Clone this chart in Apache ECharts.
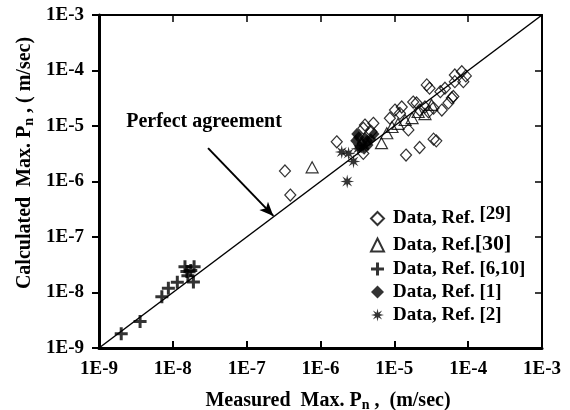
<!DOCTYPE html>
<html>
<head>
<meta charset="utf-8">
<script src="https://cdn.jsdelivr.net/npm/echarts@6/dist/echarts.min.js"></script>
<style>html,body{margin:0;padding:0;background:#fff}#c{width:570px;height:410px}</style>
</head>
<body>
<div id="c"></div>
<script>
// ---- data (measured, calculated) in m/sec ----
const ref29 = [
  [3.3e-7,1.55e-6],[3.9e-7,5.7e-7],[1.66e-6,5.2e-6],[1.44e-5,3.0e-6],[2.2e-5,4.1e-6],
  [3.4e-5,5.8e-6],[3.7e-5,5.4e-6],[1.55e-5,8.5e-6],[3.8e-6,9.1e-6],[5.2e-6,1.12e-5],
  [4.0e-6,1.04e-5],[3.8e-6,3.2e-6],[4.9e-6,7.9e-6],[1.26e-5,2.2e-5],[1.8e-5,2.7e-5],
  [2.75e-5,5.5e-5],[3.0e-5,4.8e-5],[2.6e-5,2.2e-5],[2.9e-5,1.8e-5],[3.4e-5,2.1e-5],
  [4.4e-5,1.94e-5],[4.85e-5,4.8e-5],[4.2e-5,4.15e-5],[6.0e-5,3.2e-5],[5.4e-5,2.6e-5],
  [6.3e-5,3.4e-5],[6.6e-5,8.3e-5],[8.2e-5,9.5e-5],[8.6e-5,6.3e-5],[6.6e-5,6.3e-5],
  [9.3e-5,8.0e-5],[1.19e-5,1.69e-5],[8.7e-6,1.38e-5],[2.2e-5,1.94e-5],[1.02e-5,1.94e-5],
  [2.0e-5,2.6e-5]
];
const ref30 = [
  [7.7e-7,1.8e-6],[6.7e-6,4.9e-6],[7.9e-6,7.4e-6],[9.3e-6,9.6e-6],[1.12e-5,1.09e-5],
  [1.4e-5,1.28e-5],[1.74e-5,1.39e-5],[2.1e-5,1.79e-5],[2.6e-5,1.64e-5],[3.2e-5,2.4e-5]
];
const ref6_10 = [
  [2.0e-9,1.8e-9],[3.6e-9,3.0e-9],[7.1e-9,8.4e-9],[8.7e-9,1.19e-8],[1.15e-8,1.53e-8],
  [1.46e-8,2.9e-8],[1.94e-8,2.9e-8],[1.55e-8,2.4e-8],[1.75e-8,2.5e-8],[1.6e-8,2.0e-8],
  [1.9e-8,1.55e-8]
];
const ref1 = [
  [3.0e-6,5.4e-6],[3.3e-6,6.3e-6],[3.65e-6,4.9e-6],[4.0e-6,6.1e-6],[4.4e-6,4.55e-6],
  [4.8e-6,5.8e-6],[3.4e-6,4.2e-6],[3.9e-6,3.9e-6],[5.3e-6,7.2e-6],[3.1e-6,7.2e-6],
  [4.3e-6,5.4e-6]
];
const ref2 = [
  [1.94e-6,3.4e-6],[2.4e-6,3.2e-6],[2.8e-6,2.3e-6],[2.3e-6,1.0e-6],[3.2e-6,3.9e-6],
  [3.8e-6,4.5e-6]
];
const seriesNames = ['Data, Ref. [29]','Data, Ref. [30]','Data, Ref. [6,10]','Data, Ref. [1]','Data, Ref. [2]'];
const perfectLine = [[1e-9,1e-9],[1e-3,1e-3]];
const arrowFrom = [3.0e-8, 4.0e-6];
const arrowTo = [2.3e-7, 2.4e-7];
const axisMin = 1e-9, axisMax = 1e-3;

const FONT = 'Liberation Serif';
function starPath(n, ro, ri){
  let s = 'path://';
  for (let i = 0; i < 2*n; i++){
    const a = i*Math.PI/n - Math.PI/2;
    const r = (i%2===0) ? ro : ri;
    const x = (10 + r*Math.cos(a)).toFixed(2), y = (10 + r*Math.sin(a)).toFixed(2);
    s += (i===0?'M':'L') + x + ',' + y;
  }
  return s + 'Z';
}
const plusPath = 'path://M5,0H8V5H13V8H8V13H5V8H0V5H5Z';
const label = v => '1E' + Math.round(Math.log10(v));
const baseAxis = {type:'log', logBase:10, min:axisMin, max:axisMax, interval:1,
  splitLine:{show:false}, minorTick:{show:false}, minorSplitLine:{show:false}};
const labelStyle = {fontFamily:FONT, fontWeight:'bold', fontSize:19, color:'#000'};

const chart = echarts.init(document.getElementById('c'), null, {renderer:'canvas'});
const blank = {color:'rgba(255,255,255,0)', borderColor:'#000', borderWidth:1.2};
const rs = (size, extra) => Object.assign({fontFamily:FONT, fontWeight:'bold', fontSize:size, color:'#000', lineHeight:22}, extra || {});
chart.setOption({
  animation:false,
  grid:{left:99, right:28, top:15, bottom:62},
  xAxis:[
    Object.assign({}, baseAxis, {position:'bottom',
      axisLine:{onZero:false, lineStyle:{color:'#000', width:3}},
      axisTick:{inside:true, length:7, lineStyle:{color:'#000', width:2}},
      axisLabel:Object.assign({formatter:label, margin:12}, labelStyle)}),
    Object.assign({}, baseAxis, {position:'top',
      axisLine:{onZero:false, lineStyle:{color:'#000', width:2}},
      axisTick:{inside:true, length:7, lineStyle:{color:'#000', width:1.5}},
      axisLabel:{show:false}})
  ],
  yAxis:[
    Object.assign({}, baseAxis, {position:'left',
      axisLine:{onZero:false, lineStyle:{color:'#000', width:3}},
      axisTick:{inside:false, length:7, lineStyle:{color:'#000', width:2}},
      axisLabel:Object.assign({formatter:label, margin:15}, labelStyle)}),
    Object.assign({}, baseAxis, {position:'right',
      axisLine:{onZero:false, lineStyle:{color:'#000', width:2}},
      axisTick:{inside:true, length:7, lineStyle:{color:'#000', width:1.5}},
      axisLabel:{show:false}})
  ],
  legend:{
    data:seriesNames, orient:'vertical', left:370, top:205, padding:0,
    itemWidth:13, itemHeight:13, itemGap:1,
    formatter: function(name){
      const p = name.split(' [');
      const br = '[' + p[1];
      if (br === '[29]') return '{a|' + p[0] + '} {r|' + br + '}';
      if (br === '[30]') return '{a|' + p[0] + '}{g|' + br + '}';
      return '{a|' + p[0] + '} {b|' + br + '}';
    },
    textStyle:Object.assign(rs(19), {
      rich:{
        a:rs(19, {padding:[0,0,0,4]}),
        b:rs(19),
        r:rs(19, {padding:[0,0,8,0]}),
        g:rs(22, {padding:[0,0,2,0]})
      }})
  },
  series:[
    {type:'line', data:perfectLine, symbol:'none', silent:true,
      lineStyle:{color:'#000', width:1.5}, z:1,
      markLine:{silent:true, symbol:['none','arrow'], symbolSize:[9,14], label:{show:false},
        lineStyle:{color:'#000', width:2, type:'solid'},
        data:[[{coord:arrowFrom},{coord:arrowTo}]]}},
    {name:seriesNames[0], type:'scatter', data:ref29, symbol:'diamond', symbolSize:[11,12], itemStyle:blank, z:3},
    {name:seriesNames[1], type:'scatter', data:ref30, symbol:'triangle', symbolSize:[12,11], itemStyle:blank, z:3},
    {name:seriesNames[2], type:'scatter', data:ref6_10, symbol:plusPath, symbolSize:13, itemStyle:{color:'#000'}, z:4},
    {name:seriesNames[3], type:'scatter', data:ref1, symbol:'diamond', symbolSize:[11,12], itemStyle:{color:'#000'}, z:4},
    {name:seriesNames[4], type:'scatter', data:ref2, symbol:starPath(8,7,2.6), symbolSize:14, itemStyle:{color:'#000'}, z:5}
  ],
  graphic:[
    {type:'text', x:204, y:122, style:{text:'Perfect agreement', font:'bold 20px "Liberation Serif"', fill:'#000', align:'center', verticalAlign:'middle'}},
    {type:'text', x:328, y:401, style:{
      text:'{a|Measured  Max. P}{s|n}{a| ,  (m/sec)}', align:'center', verticalAlign:'middle',
      rich:{a:{font:'bold 20px "Liberation Serif"', fill:'#000'}, s:{font:'bold 14px "Liberation Serif"', fill:'#000', padding:[9,0,0,0]}}}},
    {type:'text', x:25, y:163, rotation:Math.PI/2, style:{
      text:'{a|Calculated  Max. P}{s|n}{a| , ( m/sec)}', align:'center', verticalAlign:'middle',
      rich:{a:{font:'bold 20px "Liberation Serif"', fill:'#000'}, s:{font:'bold 14px "Liberation Serif"', fill:'#000', padding:[9,0,0,0]}}}}
  ]
});
</script>
</body>
</html>
